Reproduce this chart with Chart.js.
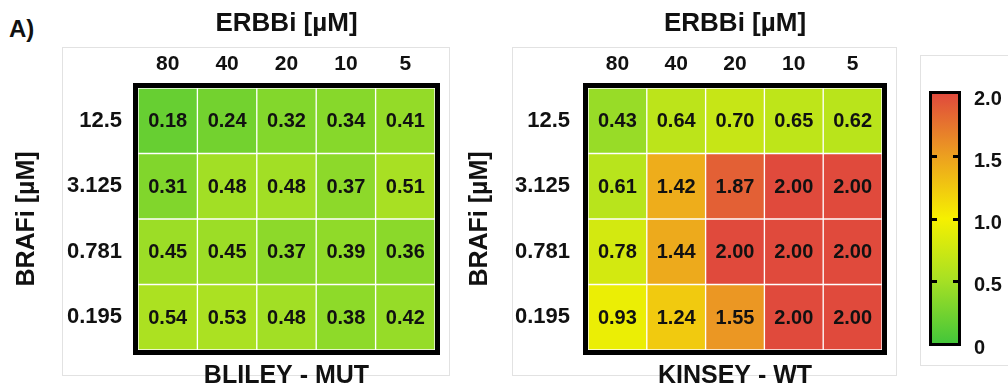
<!DOCTYPE html>
<html>
<head>
<meta charset="utf-8">
<script src="https://cdn.jsdelivr.net/npm/chart.js@4.4.1/dist/chart.umd.min.js"></script>
<style>
  html, body { margin: 0; padding: 0; background: #fff; }
  #wrap { position: relative; width: 1008px; height: 389px; overflow: hidden; }
  .panel { position: absolute; top: 0; height: 389px; }
  #panelA { left: 0; width: 460px; }
  #panelB { left: 460px; width: 450px; }
  #panelC { left: 910px; width: 98px; }
  #tag { position: absolute; left: 9px; top: 17px; font: bold 24px "Liberation Sans", Arial, sans-serif; line-height: 24px; color: #111; }
</style>
</head>
<body>
<div id="wrap">
  <div id="tag">A)</div>
  <div class="panel" id="panelA"><canvas id="bliley"></canvas></div>
  <div class="panel" id="panelB"><canvas id="kinsey"></canvas></div>
  <div class="panel" id="panelC"><canvas id="colorbar"></canvas></div>
</div>
<script>
// ERBBi concentrations (columns) and BRAFi concentrations (rows)
const colLabels = ['80', '40', '20', '10', '5'];
const rowLabels = ['12.5', '3.125', '0.781', '0.195'];

const blileyValues = [
    [0.18, 0.24, 0.32, 0.34, 0.41],
    [0.31, 0.48, 0.48, 0.37, 0.51],
    [0.45, 0.45, 0.37, 0.39, 0.36],
    [0.54, 0.53, 0.48, 0.38, 0.42],
];
const kinseyValues = [
    [0.43, 0.64, 0.70, 0.65, 0.62],
    [0.61, 1.42, 1.87, 2.00, 2.00],
    [0.78, 1.44, 2.00, 2.00, 2.00],
    [0.93, 1.24, 1.55, 2.00, 2.00],
];

const scaleTicks = [0, 0.5, 1, 1.5, 2];
const scaleTickLabels = ['0', '0.5', '1.0', '1.5', '2.0'];

// colour map: green -> yellow -> red
const colorStops = [
    [0, [68, 198, 58]],
    [0.5, [166, 224, 36]],
    [1.0, [246, 240, 0]],
    [1.5, [236, 160, 32]],
    [2.0, [224, 74, 60]],
];

const FONT = '"Liberation Sans", Arial, sans-serif';
const INK = '#111';

function colorFor(v) {
    for (let i = 1; i < colorStops.length; i++) {
        const [v0, c0] = colorStops[i - 1];
        const [v1, c1] = colorStops[i];
        if (v <= v1 || i === colorStops.length - 1) {
            const t = Math.max(0, Math.min(1, (v - v0) / (v1 - v0)));
            const c = c0.map((x, k) => Math.round(x + (c1[k] - x) * t));
            return `rgb(${c[0]},${c[1]},${c[2]})`;
        }
    }
}

function rgbStr(c) {
    return `rgb(${c[0]},${c[1]},${c[2]})`;
}

// faint frame around each panel
const panelBox = {
    id: 'panelBox',
    beforeDraw(chart, args, opts) {
        const a = chart.chartArea;
        const ctx = chart.ctx;
        ctx.save();
        ctx.strokeStyle = '#e2e2e2';
        ctx.lineWidth = 1;
        const l = a.left + opts.left, t = a.top + opts.top;
        const r = opts.right === null ? chart.width + 5 : a.right + opts.right;
        const b = a.bottom + opts.bottom;
        ctx.strokeRect(Math.round(l) + 0.5, Math.round(t) + 0.5, r - l, b - t);
        ctx.restore();
    },
};

// numbers in each cell + thick black frame
const cellText = {
    id: 'cellText',
    afterDatasetsDraw(chart) {
        const ctx = chart.ctx;
        ctx.save();
        ctx.font = `bold 20px ${FONT}`;
        ctx.fillStyle = INK;
        ctx.textAlign = 'center';
        ctx.textBaseline = 'middle';
        chart.data.datasets.forEach((ds, di) => {
            chart.getDatasetMeta(di).data.forEach((bar, ci) => {
                ctx.fillText(ds.values[ci].toFixed(2), bar.x, (bar.y + bar.base) / 2 + 1);
            });
        });
        const a = chart.chartArea;
        ctx.lineWidth = 5;
        ctx.strokeStyle = '#000';
        ctx.strokeRect(a.left - 2.5, a.top - 2.5, a.width + 5, a.height + 5);
        ctx.restore();
    },
};

function makeHeatmap(id, values, bottomTitle, geo) {
    const datasets = rowLabels.map((r, ri) => ({
        label: r,
        values: values[ri],
        data: colLabels.map(() => [ri, ri + 1]),
        backgroundColor: values[ri].map(colorFor),
        borderColor: 'rgba(255,255,255,0.3)',
        borderWidth: 1,
        borderSkipped: false,
        grouped: false,
        barPercentage: 1,
        categoryPercentage: 1,
    }));

    return new Chart(document.getElementById(id), {
        type: 'bar',
        data: { labels: colLabels, datasets: datasets },
        options: {
            responsive: true,
            maintainAspectRatio: false,
            animation: false,
            layout: { padding: { left: 0, right: geo.rightPad, top: 0, bottom: 0 } },
            scales: {
                x: {
                    position: 'top',
                    grid: { display: false, drawTicks: false },
                    border: { display: false },
                    ticks: { color: INK, font: { family: FONT, size: 21, weight: 'bold' }, padding: 11 },
                    title: {
                        display: true,
                        text: 'ERBBi [µM]',
                        color: INK,
                        font: { family: FONT, size: 26, weight: 'bold', lineHeight: 1.2 },
                        padding: { top: 8, bottom: 0 },
                    },
                    afterFit(s) { s.height = 88; },
                },
                y: {
                    min: 0,
                    max: rowLabels.length,
                    reverse: true,
                    grid: { display: false, drawTicks: false },
                    border: { display: false },
                    afterBuildTicks(s) { s.ticks = rowLabels.map((_, i) => ({ value: i + 0.5 })); },
                    ticks: {
                        color: INK,
                        font: { family: FONT, size: 22, weight: 'bold' },
                        padding: geo.tickPad,
                        callback: (v, i) => rowLabels[i],
                    },
                    title: {
                        display: true,
                        text: 'BRAFi [µM]',
                        color: INK,
                        font: { family: FONT, size: 25, weight: 'bold', lineHeight: 1.2 },
                        padding: { top: geo.yTitlePad, bottom: 0 },
                    },
                    afterFit(s) { s.width = geo.yWidth; },
                },
            },
            plugins: {
                legend: { display: false },
                tooltip: { enabled: false },
                title: {
                    display: true,
                    position: 'bottom',
                    fullSize: false,
                    text: bottomTitle,
                    color: INK,
                    font: { family: FONT, size: 25, weight: 'bold', lineHeight: 1 },
                    padding: { top: 14, bottom: 0 },
                },
                panelBox: { left: -76, top: -41, right: 14, bottom: 25 },
            },
        },
        plugins: [panelBox, cellText],
    });
}

makeHeatmap('bliley', blileyValues, 'BLILEY - MUT', { yWidth: 138, rightPad: 25, tickPad: 16, yTitlePad: 12 });
makeHeatmap('kinsey', kinseyValues, 'KINSEY - WT', { yWidth: 128, rightPad: 28, tickPad: 18, yTitlePad: 5 });

// colour bar
const barTicks = {
    id: 'barTicks',
    afterDatasetsDraw(chart) {
        const ctx = chart.ctx;
        const a = chart.chartArea;
        const y = chart.scales.y;
        ctx.save();
        ctx.strokeStyle = '#000';
        ctx.lineWidth = 3;
        scaleTicks.slice(1, -1).forEach(v => {
            const py = Math.round(y.getPixelForValue(v)) + 0.5;
            ctx.beginPath();
            ctx.moveTo(a.left, py); ctx.lineTo(a.left + 5, py);
            ctx.moveTo(a.right - 5, py); ctx.lineTo(a.right, py);
            ctx.stroke();
        });
        ctx.lineWidth = 3;
        ctx.strokeRect(a.left - 1.5, a.top - 1.5, a.width + 3, a.height + 3);
        ctx.restore();
    },
};

new Chart(document.getElementById('colorbar'), {
    type: 'bar',
    data: {
        labels: ['scale'],
        datasets: [{
            data: [[scaleTicks[0], scaleTicks[scaleTicks.length - 1]]],
            backgroundColor(c) {
                const chart = c.chart;
                const y = chart.scales.y;
                if (!chart.chartArea || !y) return rgbStr(colorStops[0][1]);
                const lo = scaleTicks[0], hi = scaleTicks[scaleTicks.length - 1];
                const g = chart.ctx.createLinearGradient(0, y.getPixelForValue(lo), 0, y.getPixelForValue(hi));
                colorStops.forEach(([v, col]) => g.addColorStop((v - lo) / (hi - lo), rgbStr(col)));
                return g;
            },
            borderWidth: 0,
            barPercentage: 1,
            categoryPercentage: 1,
        }],
    },
    options: {
        responsive: true,
        maintainAspectRatio: false,
        animation: false,
        layout: { padding: { left: 22, right: 0, top: 94, bottom: 46 } },
        scales: {
            x: { display: false },
            y: {
                position: 'right',
                min: scaleTicks[0],
                max: scaleTicks[scaleTicks.length - 1],
                grid: { display: false, drawTicks: false },
                border: { display: false },
                afterBuildTicks(s) { s.ticks = scaleTicks.map(v => ({ value: v })); },
                ticks: {
                    color: INK,
                    font: { family: FONT, size: 20, weight: 'bold' },
                    padding: 16,
                    labelOffset: 5,
                    callback: (v, i) => scaleTickLabels[i],
                },
                afterFit(s) { s.width = 50; },
            },
        },
        plugins: {
            legend: { display: false },
            tooltip: { enabled: false },
            panelBox: { left: -12, top: -39, right: null, bottom: 22 },
        },
    },
    plugins: [panelBox, barTicks],
});
</script>
</body>
</html>
